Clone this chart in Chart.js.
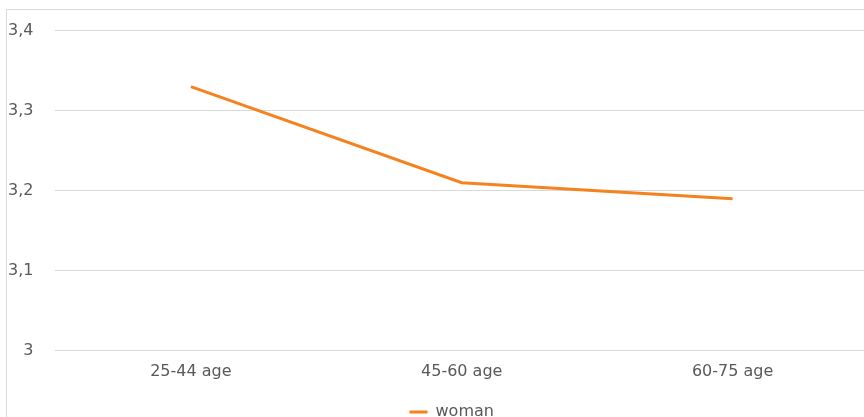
<!DOCTYPE html>
<html>
<head>
<meta charset="utf-8">
<script src="https://cdn.jsdelivr.net/npm/chart.js@4/dist/chart.umd.min.js"></script>
<style>
  html, body { margin: 0; padding: 0; background: #fff; overflow: hidden; }
  #frame {
    position: absolute; left: 6px; top: 9px;
    width: 870px; height: 430px; overflow: hidden;
    border-left: 1px solid #d9d9d9; border-top: 1px solid #d9d9d9;
  }
  /* pulled up/left so the plot lines up with the frame like the original */
  #wrap { position: relative; width: 882px; height: 431px; margin-top: -11px; margin-left: -21px; }
</style>
</head>
<body>
<div id="frame"><div id="wrap"><canvas id="chart"></canvas></div></div>
<script>
// --- data ---
const ageGroups = ['25-44 age', '45-60 age', '60-75 age'];
const womanValues = [3.33, 3.21, 3.19];
const yTicks = [3, 3.1, 3.2, 3.3, 3.4];

const fontFamily = '"DejaVu Sans", Verdana, sans-serif';
const textColor = '#595959';

// centre the legend (roughly) under the plot area rather than the whole canvas
const legendUnderPlot = {
    id: 'legendUnderPlot',
    afterLayout(chart) {
        const lg = chart.legend;
        if (!lg) return;
        const shift = (chart.chartArea.left + chart.chartArea.right) / 2 - (lg.left + lg.right) / 2 - 10;
        lg.left += shift;
        lg.right += shift;
    }
};

new Chart(document.getElementById('chart'), {
    type: 'line',
    data: {
        labels: ageGroups,
        datasets: [{
            label: 'woman',
            data: womanValues,
            borderColor: '#f5821f',
            backgroundColor: '#f5821f',
            borderWidth: 3,
            pointRadius: 0,
            tension: 0
        }]
    },
    options: {
        responsive: true,
        maintainAspectRatio: false,
        animation: false,
        layout: { padding: 0 },
        scales: {
            x: {
                offset: true,
                grid: { display: false, offset: true },
                border: { display: false },
                ticks: { color: textColor, font: { family: fontFamily, size: 16 }, padding: 3 }
            },
            y: {
                min: yTicks[0],
                max: yTicks[yTicks.length - 1],
                afterBuildTicks: axis => { axis.ticks = yTicks.map(v => ({ value: v })); },
                grid: { color: '#d9d9d9', lineWidth: 1, drawTicks: false },
                border: { display: false },
                ticks: {
                    color: textColor,
                    font: { family: fontFamily, size: 16 },
                    padding: 22,
                    callback: v => String(Math.round(v * 10) / 10).replace('.', ',')
                }
            }
        },
        plugins: {
            legend: {
                position: 'bottom',
                labels: {
                    color: textColor,
                    font: { family: fontFamily, size: 16 },
                    padding: 20,
                    usePointStyle: true,
                    pointStyle: 'line',
                    pointStyleWidth: 18
                }
            },
            tooltip: { enabled: false }
        }
    },
    plugins: [legendUnderPlot]
});
</script>
</body>
</html>
